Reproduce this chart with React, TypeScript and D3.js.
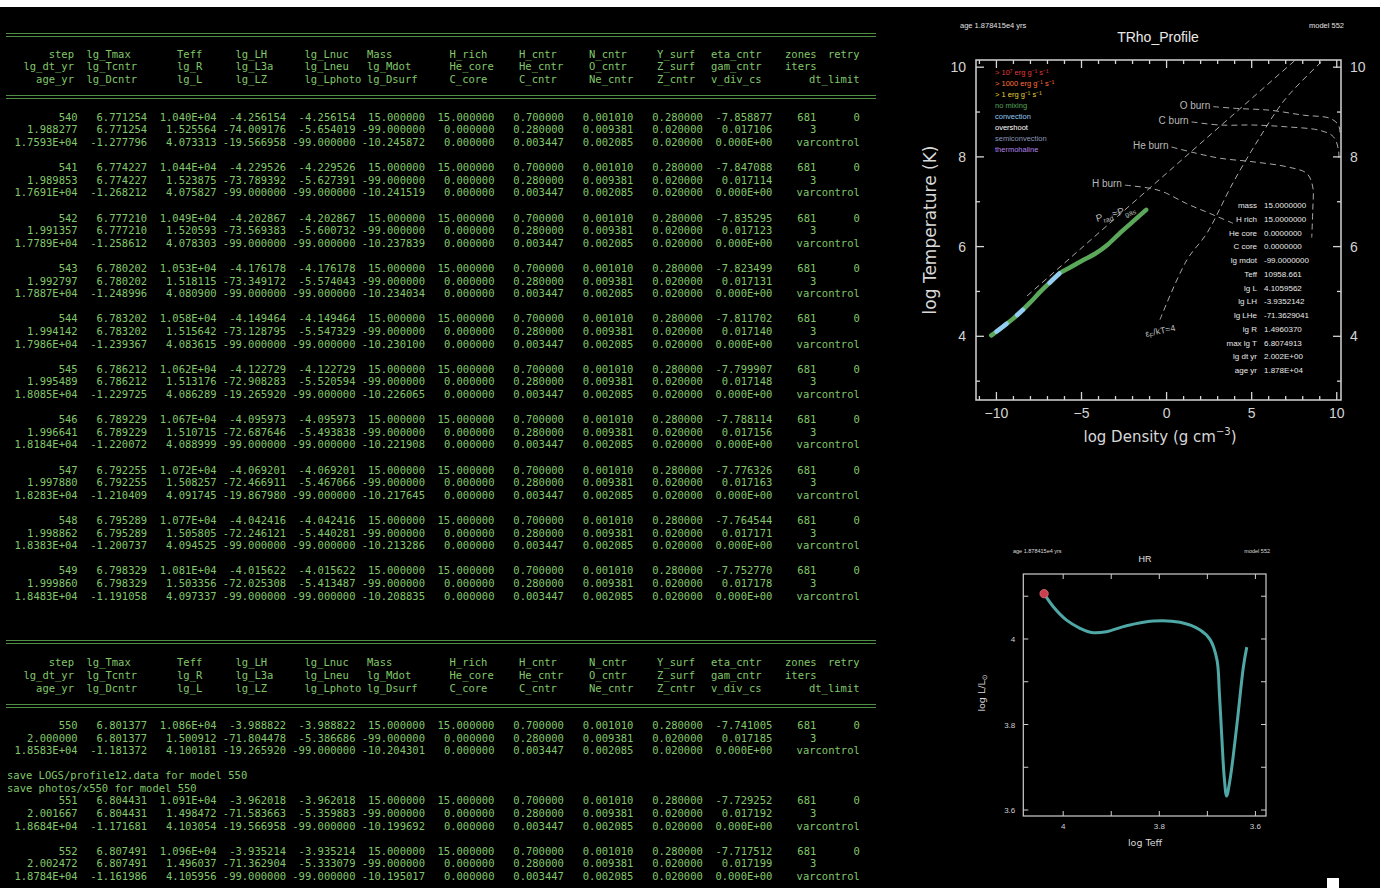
import React from "react";
import * as d3 from "d3";

// ================= TERMINAL DATA =================
const steps = ["540", "541", "542", "543", "544", "545", "546", "547", "548", "549", "550", "551", "552"];
const lgTmax = ["6.771254", "6.774227", "6.777210", "6.780202", "6.783202", "6.786212", "6.789229", "6.792255", "6.795289", "6.798329", "6.801377", "6.804431", "6.807491"];
const teff = ["1.040E+04", "1.044E+04", "1.049E+04", "1.053E+04", "1.058E+04", "1.062E+04", "1.067E+04", "1.072E+04", "1.077E+04", "1.081E+04", "1.086E+04", "1.091E+04", "1.096E+04"];
const lgLH = ["-4.256154", "-4.229526", "-4.202867", "-4.176178", "-4.149464", "-4.122729", "-4.095973", "-4.069201", "-4.042416", "-4.015622", "-3.988822", "-3.962018", "-3.935214"];
const lgDtYr = ["1.988277", "1.989853", "1.991357", "1.992797", "1.994142", "1.995489", "1.996641", "1.997880", "1.998862", "1.999860", "2.000000", "2.001667", "2.002472"];
const lgR = ["1.525564", "1.523875", "1.520593", "1.518115", "1.515642", "1.513176", "1.510715", "1.508257", "1.505805", "1.503356", "1.500912", "1.498472", "1.496037"];
const lgL3a = ["-74.009176", "-73.789392", "-73.569383", "-73.349172", "-73.128795", "-72.908283", "-72.687646", "-72.466911", "-72.246121", "-72.025308", "-71.804478", "-71.583663", "-71.362904"];
const lgLneu = ["-5.654019", "-5.627391", "-5.600732", "-5.574043", "-5.547329", "-5.520594", "-5.493838", "-5.467066", "-5.440281", "-5.413487", "-5.386686", "-5.359883", "-5.333079"];
const ageYr = ["1.7593E+04", "1.7691E+04", "1.7789E+04", "1.7887E+04", "1.7986E+04", "1.8085E+04", "1.8184E+04", "1.8283E+04", "1.8383E+04", "1.8483E+04", "1.8583E+04", "1.8684E+04", "1.8784E+04"];
const lgDcntr = ["-1.277796", "-1.268212", "-1.258612", "-1.248996", "-1.239367", "-1.229725", "-1.220072", "-1.210409", "-1.200737", "-1.191058", "-1.181372", "-1.171681", "-1.161986"];
const lgL = ["4.073313", "4.075827", "4.078303", "4.080900", "4.083615", "4.086289", "4.088999", "4.091745", "4.094525", "4.097337", "4.100181", "4.103054", "4.105956"];
const lgLZ = ["-19.566958", "-99.000000", "-99.000000", "-99.000000", "-99.000000", "-19.265920", "-99.000000", "-19.867980", "-99.000000", "-99.000000", "-19.265920", "-19.566958", "-99.000000"];
const lgDsurf = ["-10.245872", "-10.241519", "-10.237839", "-10.234034", "-10.230100", "-10.226065", "-10.221908", "-10.217645", "-10.213286", "-10.208835", "-10.204301", "-10.199692", "-10.195017"];
const etaCntr = ["-7.858877", "-7.847088", "-7.835295", "-7.823499", "-7.811702", "-7.799907", "-7.788114", "-7.776326", "-7.764544", "-7.752770", "-7.741005", "-7.729252", "-7.717512"];
const gamCntr = ["0.017106", "0.017114", "0.017123", "0.017131", "0.017140", "0.017148", "0.017156", "0.017163", "0.017171", "0.017178", "0.017185", "0.017192", "0.017199"];
// columns that stay constant over these steps
const massVal = "15.000000";
const hRich = "15.000000";
const hCntr = "0.700000";
const nCntr = "0.001010";
const ySurf = "0.280000";
const lgMdot = "-99.000000";
const heCore = "0.000000";
const heCntr = "0.280000";
const oCntr = "0.009381";
const zSurf = "0.020000";
const lgLphoto = "-99.000000";
const cCore = "0.000000";
const cCntr = "0.003447";
const neCntr = "0.002085";
const zCntr = "0.020000";
const vDivCs = "0.000E+00";
const zones = "681";
const retry = "0";
const iters = "3";
const dtLimit = "varcontrol";

const headerCols = [
  ["step", "lg_dt_yr", "age_yr"],
  ["lg_Tmax", "lg_Tcntr", "lg_Dcntr"],
  ["Teff", "lg_R", "lg_L"],
  ["lg_LH", "lg_L3a", "lg_LZ"],
  ["lg_Lnuc", "lg_Lneu", "lg_Lphoto"],
  ["Mass", "lg_Mdot", "lg_Dsurf"],
  ["H_rich", "He_core", "C_core"],
  ["H_cntr", "He_cntr", "C_cntr"],
  ["N_cntr", "O_cntr", "Ne_cntr"],
  ["Y_surf", "Z_surf", "Z_cntr"],
  ["eta_cntr", "gam_cntr", "v_div_cs"],
  ["zones", "iters", ""],
  ["retry", "", "dt_limit"],
];
const saveLines = ["save LOGS/profile12.data for model 550", "save photos/x550 for model 550"];

// ================= TRHO PROFILE DATA =================
const profileLogRho = [-10.3, -9.6, -9.0, -8.5, -8.0, -7.4, -6.8, -6.3, -5.7, -5.0, -4.2, -3.5, -2.8, -2.0, -1.2];
const profileLogT = [4.02, 4.22, 4.40, 4.57, 4.76, 5.0, 5.22, 5.4, 5.53, 5.68, 5.84, 6.03, 6.28, 6.55, 6.82];
const convectionZones = [[-10.0, -9.4], [-8.78, -8.45], [-6.88, -6.3]];

const hBurn = [[-2.45, 7.37], [-0.97, 7.3], [-0.2, 7.22], [1.17, 6.96], [2.54, 6.74], [3.9, 6.52]];
const heBurn = [[0.29, 8.22], [1.76, 8.08], [3.14, 7.97], [5.08, 7.89], [7.06, 7.78], [8.24, 7.63], [8.59, 7.33], [8.59, 6.82], [8.53, 6.2]];
const cBurn = [[1.47, 8.78], [3.14, 8.71], [5.1, 8.71], [7.06, 8.67], [9.02, 8.59], [9.8, 8.45], [10.1, 8.16], [10.12, 7.9]];
const oBurn = [[2.74, 9.12], [4.12, 9.08], [6.08, 9.04], [8.04, 8.93], [9.6, 8.86], [10.1, 8.71], [10.2, 8.5]];
const pradPgas = [[-8.2, 4.9], [8.2, 10.37]];
const degeneracy = [[-0.39, 4.37], [1.19, 5.7], [2.37, 6.3], [3.9, 7.42], [5.5, 8.45], [7.0, 9.3], [9.6, 10.3]];

const trhoXTicks = [-10, -5, 0, 5, 10];
const trhoYTicks = [4, 6, 8, 10];

const legendItems = [
  { t: "> 10\u2077 erg g\u207B\u00B9 s\u207B\u00B9", c: "#e03a3a" },
  { t: "> 1000 erg g\u207B\u00B9 s\u207B\u00B9", c: "#ff6f3c" },
  { t: "> 1 erg g\u207B\u00B9 s\u207B\u00B9", c: "#e8cf3a" },
  { t: "no mixing", c: "#5aa55a" },
  { t: "convection", c: "#8fc9f2" },
  { t: "overshoot", c: "#ffffff" },
  { t: "semiconvection", c: "#8c96b8" },
  { t: "thermohaline", c: "#b283e8" },
];

const infoLabels = ["mass", "H rich", "He core", "C core", "lg mdot", "Teff", "lg L", "lg LH", "lg LHe", "lg R", "max lg T", "lg dt yr", "age yr"];
const infoValues = ["15.0000000", "15.0000000", "0.0000000", "0.0000000", "-99.0000000", "10958.661", "4.1059562", "-3.9352142", "-71.3629041", "1.4960370", "6.8074913", "2.002E+00", "1.878E+04"];

// ================= HR DATA =================
const hrLogTeff = [3.618, 3.625, 3.639, 3.653, 3.66, 3.665, 3.67, 3.675, 3.68, 3.694, 3.715, 3.757, 3.8125, 3.868, 3.91, 3.941, 3.965, 3.993, 4.021, 4.0397];
const hrLogL = [3.981, 3.935, 3.795, 3.67, 3.633, 3.678, 3.771, 3.873, 3.951, 3.998, 4.021, 4.039, 4.042, 4.031, 4.017, 4.015, 4.025, 4.044, 4.076, 4.106];
const hrXTicks = [4, 3.8, 3.6];
const hrYTicks = [3.6, 3.8, 4];

// ================= LAYOUT =================
const TERM_FONT = "'DejaVu Sans Mono', monospace";
const TERM_FS = 10.5;
const TERM_COLOR = "#82c76c";
const RULE_COLOR = "#4f8e44";
const colRight = d3.range(11).map((i) => 8.2 + 11 * (i + 1) * 6.315).concat([816.3, 859.8]);
const headerX = [74, 86.5, 177, 235.5, 304.5, 367, 449.5, 519, 589, 695, 711, 785, 859.5];
const headerAnchor = ["end", "start", "start", "start", "start", "start", "start", "start", "start", "end", "start", "start", "end"];

const SANS = "'Liberation Sans', Arial, sans-serif";
const DSANS = "'DejaVu Sans', sans-serif";

function rowTokens(i: number): string[][] {
  return [
    [steps[i], lgTmax[i], teff[i], lgLH[i], lgLH[i], massVal, hRich, hCntr, nCntr, ySurf, etaCntr[i], zones, retry],
    [lgDtYr[i], lgTmax[i], lgR[i], lgL3a[i], lgLneu[i], lgMdot, heCore, heCntr, oCntr, zSurf, gamCntr[i], iters, ""],
    [ageYr[i], lgDcntr[i], lgL[i], lgLZ[i], lgLphoto, lgDsurf[i], cCore, cCntr, neCntr, zCntr, vDivCs, "", dtLimit],
  ];
}

function TermLine({ tokens, y }: { tokens: string[]; y: number }) {
  return (
    <g>
      {tokens.map((t, j) =>
        t ? (
          <text key={j} x={colRight[j]} y={y + 3.7} textAnchor="end">
            {t}
          </text>
        ) : null
      )}
    </g>
  );
}

function Rule({ y }: { y: number }) {
  return (
    <g stroke={RULE_COLOR} strokeWidth={1}>
      <line x1={6} x2={876} y1={y - 1.5} y2={y - 1.5} />
      <line x1={6} x2={876} y1={y + 1.5} y2={y + 1.5} />
    </g>
  );
}

function Header({ base, lh }: { base: number; lh: number }) {
  return (
    <g>
      {headerCols.map((col, c) =>
        col.map((t, k) =>
          t ? (
            <text key={c + "-" + k} x={headerX[c]} y={base + k * lh + 3.7} textAnchor={headerAnchor[c] as any}>
              {t}
            </text>
          ) : null
        )
      )}
    </g>
  );
}

function Terminal() {
  const b1 = 54, lh1 = 12.6;
  const b2 = 662.7, lh2 = 12.55;
  const sec1 = d3.range(10);
  return (
    <g fontFamily={TERM_FONT} fontSize={TERM_FS} fill={TERM_COLOR} style={{ whiteSpace: "pre" }}>
      <Rule y={35} />
      <Header base={b1} lh={lh1} />
      <Rule y={97} />
      {sec1.map((i) =>
        rowTokens(i).map((toks, k) => <TermLine key={i + "-" + k} tokens={toks} y={b1 + (5 + 4 * i + k) * lh1} />)
      )}
      <Rule y={642} />
      <Header base={b2} lh={lh2} />
      <Rule y={706} />
      {rowTokens(10).map((toks, k) => <TermLine key={"a" + k} tokens={toks} y={b2 + (5 + k) * lh2} />)}
      {saveLines.map((s, k) => (
        <text key={"s" + k} x={7} y={b2 + (9 + k) * lh2 + 3.7}>
          {s}
        </text>
      ))}
      {rowTokens(11).map((toks, k) => <TermLine key={"b" + k} tokens={toks} y={b2 + (11 + k) * lh2} />)}
      {rowTokens(12).map((toks, k) => <TermLine key={"c" + k} tokens={toks} y={b2 + (15 + k) * lh2} />)}
    </g>
  );
}

function TRho() {
  const L = 976, R = 1341, T = 60, B = 400;
  const x = d3.scaleLinear().domain([-11.2, 10.25]).range([L, R]);
  const y = d3.scaleLinear().domain([2.58, 10.16]).range([B, T]);
  const guide = d3
    .line<number[]>()
    .x((d) => x(d[0]))
    .y((d) => y(d[1]))
    .curve(d3.curveCatmullRom.alpha(0.5));
  const prof = profileLogRho.map((r, i) => [r, profileLogT[i]]);
  const profLine = d3
    .line<number[]>()
    .x((d) => x(d[0]))
    .y((d) => y(d[1]))
    .curve(d3.curveMonotoneX);
  const interpT = (r: number) => {
    const i = Math.max(1, Math.min(profileLogRho.length - 1, d3.bisectLeft(profileLogRho, r)));
    const r0 = profileLogRho[i - 1], r1 = profileLogRho[i];
    const t = (r - r0) / (r1 - r0);
    return profileLogT[i - 1] + t * (profileLogT[i] - profileLogT[i - 1]);
  };
  const xMinor = d3.range(-11, 11, 1);
  const yMinor = d3.range(3, 11, 1);
  const axisC = "#d4d4d4";
  const guideC = "#a8a8a8";
  return (
    <g>
      <defs>
        <clipPath id="trhoClip">
          <rect x={L} y={T} width={R - L} height={B - T} />
        </clipPath>
      </defs>
      <text x={960} y={28} fontFamily={SANS} fontSize={7.5} fill="#e0e0e0">
        age 1.878415e4 yrs
      </text>
      <text x={1344} y={28} fontFamily={SANS} fontSize={7.5} fill="#e0e0e0" textAnchor="end">
        model 552
      </text>
      <text x={1158} y={41.5} fontFamily={SANS} fontSize={14} fill="#e8e8e8" textAnchor="middle">
        TRho_Profile
      </text>
      {/* guides */}
      <g clipPath="url(#trhoClip)" fill="none" stroke={guideC} strokeWidth={1} strokeDasharray="6,4">
        {[hBurn, heBurn, cBurn, oBurn, degeneracy].map((g, i) => (
          <path key={i} d={guide(g) || ""} />
        ))}
        <path d={d3.line<number[]>().x((d) => x(d[0])).y((d) => y(d[1]))(pradPgas) || ""} />
      </g>
      {/* burn labels */}
      <g fontFamily={SANS} fontSize={10} fill="#b8b8b8" textAnchor="end">
        <text x={x(oBurn[0][0]) - 3} y={y(oBurn[0][1]) + 2}>O burn</text>
        <text x={x(cBurn[0][0]) - 3} y={y(cBurn[0][1]) + 2}>C burn</text>
        <text x={x(heBurn[0][0]) - 3} y={y(heBurn[0][1]) + 2}>He burn</text>
        <text x={x(hBurn[0][0]) - 3} y={y(hBurn[0][1]) + 2}>H burn</text>
      </g>
      <text transform={`translate(1097,222) rotate(-16)`} fontFamily={SANS} fontSize={10} fill="#b8b8b8">
        P
        <tspan dy={3} fontSize={7}>rad</tspan>
        <tspan dy={-3}>≈P</tspan>
        <tspan dy={3} fontSize={7}>gas</tspan>
      </text>
      <text transform={`translate(1146,337) rotate(-12)`} fontFamily={SANS} fontSize={9} fill="#b8b8b8">
        ε<tspan dy={2} fontSize={6.5}>F</tspan>
        <tspan dy={-2}>/kT≈4</tspan>
      </text>
      {/* profile */}
      <g clipPath="url(#trhoClip)">
        <path d={profLine(prof) || ""} fill="none" stroke="#5ca85a" strokeWidth={4.5} strokeLinecap="round" />
        {convectionZones.map((z, i) => {
          const pts = [z[0], (z[0] + z[1]) / 2, z[1]].map((r) => [r, interpT(r)]);
          return <path key={i} d={profLine(pts) || ""} fill="none" stroke="#93cdf3" strokeWidth={4.5} strokeLinecap="round" />;
        })}
      </g>
      {/* legend */}
      <g fontFamily={SANS} fontSize={7.5}>
        {legendItems.map((it, i) => (
          <text key={i} x={995} y={74.5 + i * 11.1} fill={it.c}>
            {it.t}
          </text>
        ))}
      </g>
      {/* info box */}
      <g fontFamily={SANS} fontSize={8} fill="#e8e8e8">
        {infoLabels.map((l, i) => (
          <g key={i}>
            <text x={1257} y={208 + i * 13.75} textAnchor="end">{l}</text>
            <text x={1264} y={208 + i * 13.75}>{infoValues[i]}</text>
          </g>
        ))}
      </g>
      {/* frame & ticks */}
      <rect x={L} y={T} width={R - L} height={B - T} fill="none" stroke={axisC} strokeWidth={1.5} />
      <g stroke={axisC} strokeWidth={1.3}>
        {xMinor.map((v) => {
          const len = v % 5 === 0 ? 8 : 4;
          return (
            <g key={"x" + v}>
              <line x1={x(v)} x2={x(v)} y1={B} y2={B - len} />
              <line x1={x(v)} x2={x(v)} y1={T} y2={T + len} />
            </g>
          );
        })}
        {yMinor.map((v) => {
          const len = v % 2 === 0 ? 8 : 4;
          return (
            <g key={"y" + v}>
              <line x1={L} x2={L + len} y1={y(v)} y2={y(v)} />
              <line x1={R} x2={R - len} y1={y(v)} y2={y(v)} />
            </g>
          );
        })}
      </g>
      <g fontFamily={SANS} fontSize={14} fill={axisC}>
        {trhoXTicks.map((v) => (
          <text key={v} x={x(v)} y={B + 18} textAnchor="middle">
            {v < 0 ? "\u2212" + Math.abs(v) : v}
          </text>
        ))}
        {trhoYTicks.map((v) => (
          <g key={v}>
            <text x={L - 10} y={y(v) + 5} textAnchor="end">{v}</text>
            <text x={R + 9} y={y(v) + 5}>{v}</text>
          </g>
        ))}
      </g>
      <text x={1160} y={442} fontFamily={DSANS} fontSize={15} fill="#d8d8d8" textAnchor="middle">
        log Density (g cm<tspan dy={-7} fontSize={10}>{"\u22123"}</tspan>
        <tspan dy={7}>)</tspan>
      </text>
      <text transform="translate(936,230) rotate(-90)" fontFamily={DSANS} fontSize={17} fill="#d8d8d8" textAnchor="middle">
        log Temperature (K)
      </text>
    </g>
  );
}

function HR() {
  const L = 1023.3, R = 1266, T = 574, B = 816;
  const x = d3.scaleLinear().domain([4.083, 3.578]).range([L, R]);
  const y = d3.scaleLinear().domain([3.586, 4.152]).range([B, T]);
  const pts = hrLogTeff.map((t, i) => [t, hrLogL[i]]);
  const line = d3
    .line<number[]>()
    .x((d) => x(d[0]))
    .y((d) => y(d[1]))
    .curve(d3.curveCatmullRom.alpha(0.5));
  const cur = pts[pts.length - 1];
  const ticksX = d3.range(3.6, 4.05, 0.1);
  const ticksY = d3.range(3.6, 4.15, 0.1);
  const axisC = "#cfcfcf";
  return (
    <g>
      <text x={1013} y={553} fontFamily={SANS} fontSize={5.5} fill="#dcdcdc">
        age 1.878415e4 yrs
      </text>
      <text x={1270} y={553} fontFamily={SANS} fontSize={5.5} fill="#dcdcdc" textAnchor="end">
        model 552
      </text>
      <text x={1145} y={562} fontFamily={SANS} fontSize={9} fill="#e0e0e0" textAnchor="middle">
        HR
      </text>
      <path d={line(pts) || ""} fill="none" stroke="#4fa8a5" strokeWidth={3} />
      <circle cx={x(cur[0])} cy={y(cur[1])} r={4.2} fill="#c8404e" stroke="#e07080" strokeWidth={0.8} />
      <rect x={L} y={T} width={R - L} height={B - T} fill="none" stroke={axisC} strokeWidth={1.2} />
      <g stroke={axisC} strokeWidth={1}>
        {ticksX.map((v, i) => (
          <g key={"x" + i}>
            <line x1={x(v)} x2={x(v)} y1={B} y2={B - 5} />
            <line x1={x(v)} x2={x(v)} y1={T} y2={T + 5} />
          </g>
        ))}
        {ticksY.map((v, i) => (
          <g key={"y" + i}>
            <line x1={L} x2={L + 5} y1={y(v)} y2={y(v)} />
            <line x1={R} x2={R - 5} y1={y(v)} y2={y(v)} />
          </g>
        ))}
      </g>
      <g fontFamily={SANS} fontSize={8} fill={axisC}>
        {hrXTicks.map((v) => (
          <text key={v} x={x(v)} y={B + 13} textAnchor="middle">
            {String(v)}
          </text>
        ))}
        {hrYTicks.map((v) => (
          <text key={v} x={L - 8} y={y(v) + 3} textAnchor="end">
            {String(v)}
          </text>
        ))}
      </g>
      <text x={1145} y={846} fontFamily={DSANS} fontSize={9.5} fill="#d8d8d8" textAnchor="middle">
        log Teff
      </text>
      <text transform="translate(985,693) rotate(-90)" fontFamily={DSANS} fontSize={9.5} fill="#d8d8d8" textAnchor="middle">
        log L/L<tspan dy={2} fontSize={7}>⊙</tspan>
      </text>
    </g>
  );
}

export default function App() {
  return (
    <svg width={1380} height={888} style={{ position: "absolute", left: 0, top: 0, display: "block" }}>
      <rect x={0} y={0} width={1380} height={888} fill="#000" />
      <rect x={0} y={0} width={1380} height={7} fill="#fff" />
      <Terminal />
      <TRho />
      <HR />
      <rect x={1327} y={878} width={12} height={10} fill="#fff" />
    </svg>
  );
}
